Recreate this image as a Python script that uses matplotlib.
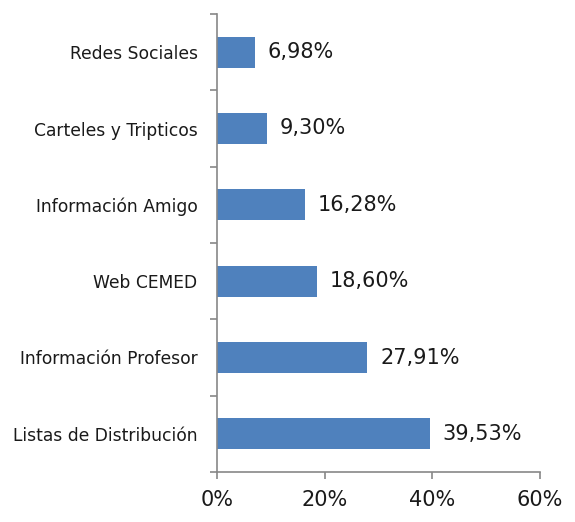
import matplotlib
matplotlib.use("Agg")
import matplotlib.pyplot as plt
import numpy as np

categorias = ["Listas de Distribución", "Información Profesor", "Web CEMED",
              "Información Amigo", "Carteles y Tripticos", "Redes Sociales"]
valores = [39.53, 27.91, 18.60, 16.28, 9.30, 6.98]
ticks_x = [0, 20, 40, 60]

plt.rcParams['font.family'] = ['DejaVu Sans']
gris = "#878787"

fig = plt.figure(figsize=(5.75, 5.22), dpi=100)
ax = fig.add_axes([217/575, 1 - 472/522, (540 - 217)/575, (472 - 14)/522])

y = np.arange(len(categorias))
ax.barh(y, valores, height=0.41, color="#4F81BD")

for yi, v in zip(y, valores):
    ax.text(v + 2.4, yi, f"{v:.2f}%".replace(".", ","), va="center", ha="left",
            fontsize=15, color="#1a1a1a")

ax.set_xlim(0, 60)
ax.set_ylim(-0.5, len(categorias) - 0.5)
ax.set_xticks(ticks_x)
ax.set_xticklabels([f"{t}%" for t in ticks_x], fontsize=15, color="#1a1a1a")
ax.set_yticks(y)
ax.set_yticklabels(categorias, fontsize=12.3, color="#1a1a1a")
ax.set_yticks(np.arange(-0.5, len(categorias)), minor=True)
ax.tick_params(axis="y", which="major", length=0, pad=14)
ax.tick_params(axis="y", which="minor", length=5, color=gris, width=1.2)
ax.tick_params(axis="x", length=5, color=gris, width=1.2, pad=8)

for s in ["top", "right"]:
    ax.spines[s].set_visible(False)
for s in ["left", "bottom"]:
    ax.spines[s].set_color(gris)
    ax.spines[s].set_linewidth(1.2)

fig.savefig("out.png", dpi=100)
